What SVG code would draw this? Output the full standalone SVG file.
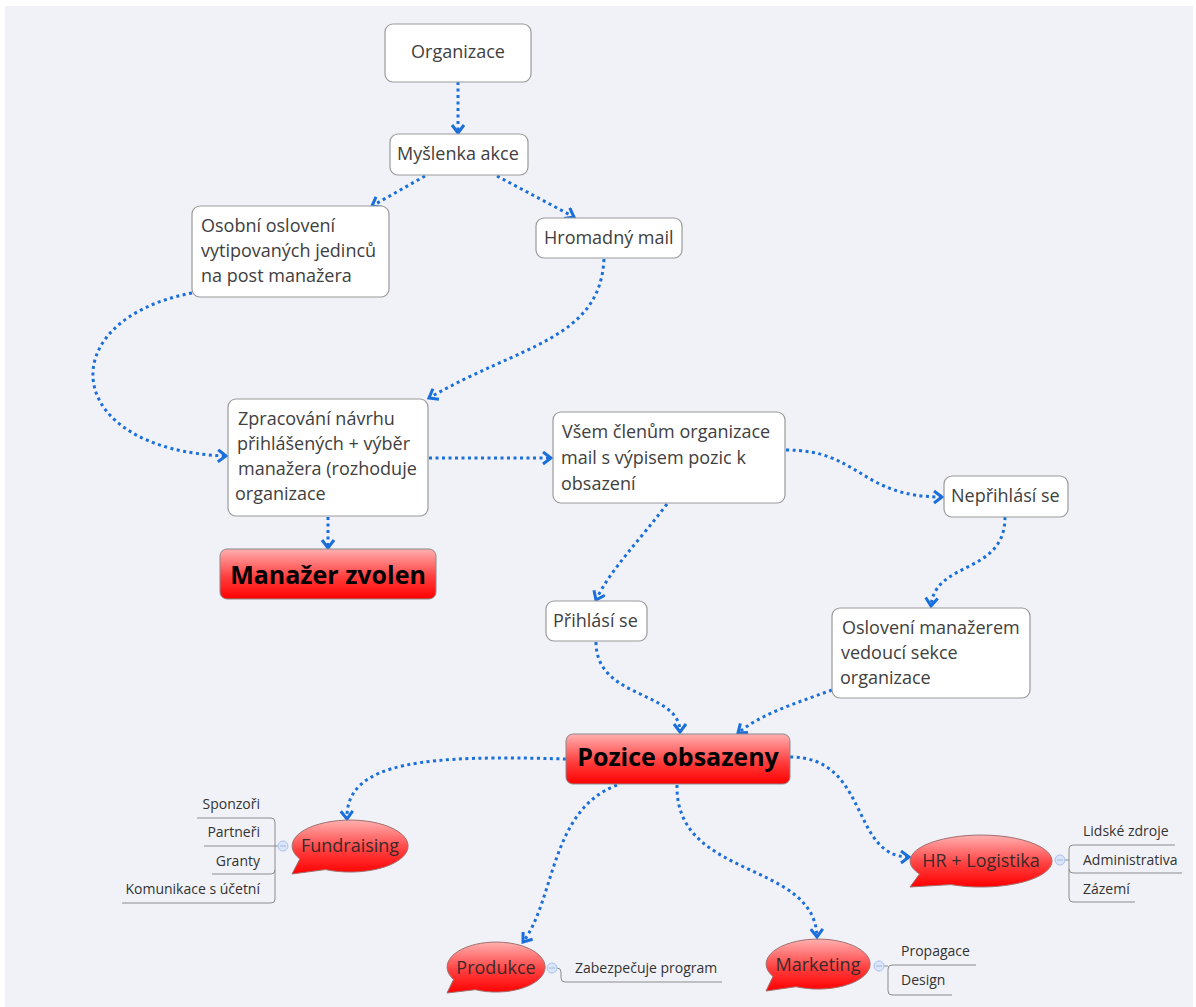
<svg xmlns="http://www.w3.org/2000/svg" width="1196" height="1007" viewBox="0 0 1196 1007">
<defs>
<style>
.box{fill:#fff;stroke:#9a9a9a;stroke-width:1.2}
.t{font-family:"Open Sans","Noto Sans",sans-serif;font-size:18px;fill:#404040}
.tb{font-family:"Open Sans","Noto Sans",sans-serif;font-size:25px;font-weight:bold;fill:#000}
.red{fill:url(#rg);stroke:#8a8a8a;stroke-width:1}
.bub{fill:url(#rg);stroke:#a07070;stroke-width:1}
.bt{font-family:"Open Sans","Noto Sans",sans-serif;font-size:18px;fill:#3a2a2a}
.st{font-family:"Open Sans","Noto Sans",sans-serif;font-size:14px;fill:#333}
.br{fill:none;stroke:#8c8c8c;stroke-width:1}
.cc{fill:#dbe6fa;stroke:#a9c1ea;stroke-width:1}
.ccm{stroke:#9fb6e0;stroke-width:1}
.c{fill:none;stroke:#1a6fdb;stroke-width:3;stroke-dasharray:3 3.5;marker-end:url(#arr)}
</style>
<linearGradient id="rg" x1="0" y1="0" x2="0" y2="1">
<stop offset="0" stop-color="#ffb0b0"/>
<stop offset="0.55" stop-color="#ff4040"/>
<stop offset="1" stop-color="#ff0000"/>
</linearGradient>
<marker id="arr" markerUnits="userSpaceOnUse" markerWidth="16" markerHeight="16" refX="10" refY="7" orient="auto">
<path d="M2,1 L10,7 L2,13" fill="none" stroke="#1a6fdb" stroke-width="3"/>
</marker>
</defs>
<rect x="0" y="0" width="1196" height="1007" fill="#fff"/>
<rect x="5" y="6" width="1188" height="1001" fill="#f1f2f8"/>

<g id="connectors">
<path class="c" d="M458 82 V133"/>
<path class="c" d="M425 176 L372 206"/>
<path class="c" d="M497 176 L574 217"/>
<path class="c" d="M192 293 C50 320 60 450 226 456"/>
<path class="c" d="M604 259 C600 340 520 345 429 398"/>
<path class="c" d="M429 458 H551"/>
<path class="c" d="M328 517 V548"/>
<path class="c" d="M786 450 C860 450 860 497 942 497"/>
<path class="c" d="M667 504 C640 540 610 570 596 600"/>
<path class="c" d="M1005 517 C1005 575 935 560 931 606"/>
<path class="c" d="M596 642 C596 700 680 690 680 732"/>
<path class="c" d="M832 690 C790 705 760 715 738 733"/>
<path class="c" d="M566 759 C430 755 345 760 347 819"/>
<path class="c" d="M790 757 C870 757 850 857 909 857"/>
<path class="c" d="M617 785 C550 810 555 900 523 942"/>
<path class="c" d="M677 785 C675 880 815 860 817 937"/>
</g>

<g id="organizace">
<rect class="box" x="385" y="24" width="146" height="58" rx="8"/>
<text class="t" x="458" y="58" text-anchor="middle">Organizace</text>
</g>
<g id="myslenka">
<rect class="box" x="390" y="134" width="138" height="41" rx="8"/>
<text class="t" x="397" y="160">Myšlenka akce</text>
</g>
<g id="hromadny">
<rect class="box" x="536" y="218" width="146" height="40" rx="8"/>
<text class="t" x="544" y="244">Hromadný mail</text>
</g>
<g id="osobni">
<rect class="box" x="192" y="206" width="197" height="91" rx="8"/>
<text class="t" x="201" y="232">Osobní oslovení</text>
<text class="t" x="201" y="257">vytipovaných jedinců</text>
<text class="t" x="201" y="282">na post manažera</text>
</g>
<g id="zpracovani">
<rect class="box" x="228" y="399" width="200" height="117" rx="8"/>
<text class="t" x="238" y="425">Zpracování návrhu</text>
<text class="t" x="237" y="450">přihlášených + výběr</text>
<text class="t" x="238" y="475">manažera (rozhoduje</text>
<text class="t" x="235" y="500">organizace</text>
</g>
<g id="manazer-zvolen">
<rect class="red" x="220" y="549" width="216" height="50" rx="7"/>
<text class="tb" x="328" y="584" text-anchor="middle">Manažer zvolen</text>
</g>
<g id="vsem">
<rect class="box" x="553" y="412" width="232" height="91" rx="8"/>
<text class="t" x="562" y="438">Všem členům organizace</text>
<text class="t" x="561" y="464">mail s výpisem pozic k</text>
<text class="t" x="561" y="490">obsazení</text>
</g>
<g id="neprihlasi">
<rect class="box" x="944" y="476" width="124" height="41" rx="8"/>
<text class="t" x="951" y="502">Nepřihlásí se</text>
</g>
<g id="prihlasi">
<rect class="box" x="546" y="601" width="101" height="40" rx="8"/>
<text class="t" x="553" y="627">Přihlásí se</text>
</g>
<g id="osloveni">
<rect class="box" x="832" y="608" width="198" height="90" rx="8"/>
<text class="t" x="842" y="634">Oslovení manažerem</text>
<text class="t" x="841" y="659">vedoucí sekce</text>
<text class="t" x="840" y="684">organizace</text>
</g>
<g id="pozice">
<rect class="red" x="566" y="734" width="224" height="50" rx="7"/>
<text class="tb" x="678" y="766" text-anchor="middle">Pozice obsazeny</text>
</g>

<g id="fundraising">
<path class="bub" d="M299.8 859 A58 26 0 1 1 325.5 869.6 L292 874 Z"/>
<text class="bt" x="350" y="852" text-anchor="middle">Fundraising</text>
<path class="br" d="M197 818 H271 Q275 818 275 822 V899 Q275 903 271 903 H122 M204 846 H279 M212 874 H271 Q275 874 275 870"/>
<circle class="cc" cx="283" cy="846" r="5"/>
<path class="ccm" d="M280 846 H286"/>
<text class="st" x="260" y="809" text-anchor="end">Sponzoři</text>
<text class="st" x="260" y="837" text-anchor="end">Partneři</text>
<text class="st" x="260" y="866" text-anchor="end">Granty</text>
<text class="st" x="260" y="894" text-anchor="end">Komunikace s účetní</text>
</g>

<g id="hr-logistika">
<path class="bub" d="M919.5 874 A71 26 0 1 1 951 884.6 L910 887 Z"/>
<text class="bt" x="981" y="867" text-anchor="middle">HR + Logistika</text>
<path class="br" d="M1175 845 H1073 Q1069 845 1069 849 V898 Q1069 902 1073 902 H1135 M1065 860 H1069 M1069 869 Q1069 873 1073 873 H1182"/>
<circle class="cc" cx="1060" cy="860" r="5"/>
<path class="ccm" d="M1057 860 H1063"/>
<text class="st" x="1083" y="836">Lidské zdroje</text>
<text class="st" x="1083" y="865">Administrativa</text>
<text class="st" x="1083" y="894">Zázemí</text>
</g>

<g id="produkce">
<path class="bub" d="M453.6 979.5 A49 25 0 1 1 475.3 989.7 L447 993 Z"/>
<text class="bt" x="496" y="974" text-anchor="middle">Produkce</text>
<path class="br" d="M557 968 Q561 968 561 972 V978 Q561 982 565 982 H722"/>
<circle class="cc" cx="552" cy="968" r="5"/>
<path class="ccm" d="M549 968 H555"/>
<text class="st" x="575" y="973">Zabezpečuje program</text>
</g>

<g id="marketing">
<path class="bub" d="M773 976.5 A52 25 0 1 1 796 986.7 L766 991 Z"/>
<text class="bt" x="818" y="971" text-anchor="middle">Marketing</text>
<path class="br" d="M884 966 H888 M976 965 H892 Q888 965 888 969 V991 Q888 995 892 995 H952"/>
<circle class="cc" cx="879" cy="966" r="5"/>
<path class="ccm" d="M876 966 H882"/>
<text class="st" x="901" y="956">Propagace</text>
<text class="st" x="901" y="985">Design</text>
</g>
</svg>
